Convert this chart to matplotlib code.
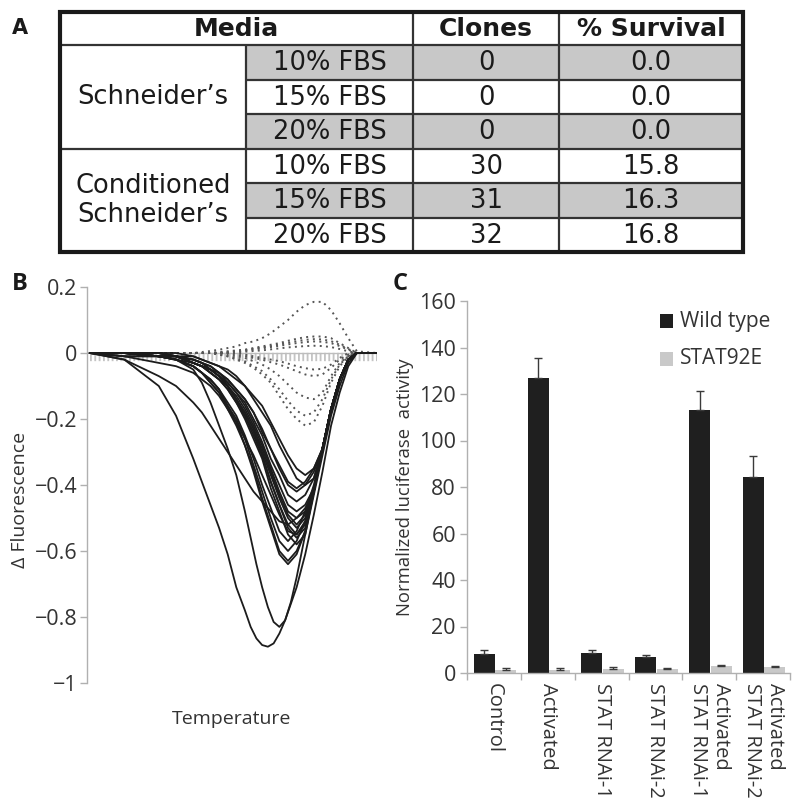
import matplotlib
matplotlib.use("Agg")
import matplotlib.pyplot as plt
from matplotlib.patches import Rectangle

plt.rcParams["font.family"] = ["Open Sans", "DejaVu Sans"]
plt.rcParams["axes.unicode_minus"] = True

# ---------------- Panel A : table ----------------
table_header = ["Media", "Clones", "% Survival"]
media_groups = ["Schneider\u2019s", "Conditioned\nSchneider\u2019s"]
fbs_levels = ["10% FBS", "15% FBS", "20% FBS", "10% FBS", "15% FBS", "20% FBS"]
clones = ["0", "0", "0", "30", "31", "32"]
survival = ["0.0", "0.0", "0.0", "15.8", "16.3", "16.8"]
shaded_rows = [0, 2, 4]

# ---------------- Panel B : melt curves ----------------
temperature = [0, 12, 24, 30, 36, 39, 42, 45, 48, 51, 54, 57, 60, 63, 66, 69,
               72, 75, 78, 81, 84, 87, 90, 93, 100]
temperature_deep = [0, 12, 24, 30, 36, 39, 42, 45, 48, 51, 54, 56, 58, 60, 62, 64,
                    66, 68, 70, 72, 75, 78, 81, 84, 87, 90, 93, 100]

melt_deep = [
    [0, -0.02, -0.10, -0.19, -0.32, -0.39, -0.46, -0.53, -0.61, -0.71, -0.78, -0.83, -0.865,
     -0.885, -0.89, -0.88, -0.85, -0.81, -0.76, -0.71, -0.61, -0.49, -0.36, -0.22, -0.12,
     -0.04, 0, 0],
    [0, 0, -0.01, -0.02, -0.05, -0.09, -0.15, -0.22, -0.29, -0.37, -0.48, -0.56, -0.64,
     -0.71, -0.77, -0.815, -0.83, -0.81, -0.755, -0.68, -0.55, -0.43, -0.31, -0.19, -0.10,
     -0.03, 0, 0],
]

melt_bundle = [
    [0, 0, 0, 0, -0.01, -0.02, -0.03, -0.04, -0.05, -0.07, -0.10, -0.13, -0.16, -0.21, -0.26, -0.31, -0.35, -0.37, -0.35, -0.29, -0.17, -0.08, -0.02, 0, 0],
    [0, 0, -0.01, -0.01, -0.01, -0.02, -0.03, -0.04, -0.06, -0.08, -0.10, -0.14, -0.18, -0.22, -0.28, -0.33, -0.38, -0.40, -0.38, -0.29, -0.17, -0.08, -0.02, 0, 0],
    [0, 0, 0, -0.01, -0.02, -0.03, -0.04, -0.06, -0.08, -0.11, -0.14, -0.18, -0.23, -0.29, -0.34, -0.39, -0.41, -0.39, -0.35, -0.29, -0.17, -0.08, -0.02, 0, 0],
    [0, 0, -0.01, -0.01, -0.02, -0.03, -0.04, -0.06, -0.08, -0.11, -0.14, -0.18, -0.24, -0.29, -0.35, -0.40, -0.42, -0.40, -0.36, -0.29, -0.17, -0.08, -0.02, 0, 0],
    [0, 0, 0, -0.01, -0.02, -0.03, -0.05, -0.06, -0.09, -0.12, -0.15, -0.20, -0.25, -0.32, -0.37, -0.43, -0.45, -0.43, -0.38, -0.29, -0.17, -0.08, -0.02, 0, 0],
    [0, 0, -0.01, -0.01, -0.02, -0.03, -0.05, -0.07, -0.09, -0.12, -0.16, -0.21, -0.27, -0.34, -0.40, -0.46, -0.48, -0.46, -0.41, -0.29, -0.17, -0.08, -0.02, 0, 0],
    [0, 0, 0, -0.01, -0.03, -0.04, -0.05, -0.07, -0.10, -0.13, -0.17, -0.22, -0.28, -0.35, -0.42, -0.48, -0.50, -0.48, -0.42, -0.29, -0.17, -0.08, -0.02, 0, 0],
    [0, -0.01, -0.01, -0.02, -0.03, -0.04, -0.05, -0.07, -0.10, -0.14, -0.18, -0.23, -0.29, -0.36, -0.43, -0.49, -0.52, -0.49, -0.42, -0.29, -0.17, -0.08, -0.02, 0, 0],
    [0, 0, 0, -0.01, -0.03, -0.04, -0.05, -0.07, -0.10, -0.14, -0.18, -0.23, -0.30, -0.37, -0.44, -0.50, -0.53, -0.50, -0.42, -0.29, -0.17, -0.08, -0.02, 0, 0],
    [0, 0, -0.01, -0.01, -0.03, -0.04, -0.06, -0.08, -0.10, -0.14, -0.19, -0.24, -0.31, -0.39, -0.46, -0.52, -0.55, -0.52, -0.42, -0.29, -0.17, -0.08, -0.02, 0, 0],
    [0, 0, 0, -0.01, -0.03, -0.04, -0.06, -0.08, -0.11, -0.15, -0.19, -0.25, -0.31, -0.39, -0.46, -0.53, -0.56, -0.53, -0.42, -0.29, -0.17, -0.08, -0.02, 0, 0],
    [0, 0, -0.01, -0.02, -0.04, -0.06, -0.08, -0.11, -0.15, -0.19, -0.25, -0.32, -0.40, -0.47, -0.54, -0.57, -0.54, -0.48, -0.40, -0.29, -0.17, -0.08, -0.02, 0, 0],
    [0, 0, -0.01, -0.01, -0.03, -0.04, -0.06, -0.08, -0.11, -0.15, -0.20, -0.26, -0.32, -0.41, -0.48, -0.55, -0.58, -0.55, -0.42, -0.29, -0.17, -0.08, -0.02, 0, 0],
    [0, 0, -0.01, -0.02, -0.04, -0.06, -0.08, -0.11, -0.16, -0.20, -0.26, -0.34, -0.42, -0.50, -0.57, -0.60, -0.57, -0.51, -0.42, -0.29, -0.17, -0.08, -0.02, 0, 0],
    [0, -0.01, -0.01, -0.02, -0.04, -0.06, -0.09, -0.12, -0.16, -0.21, -0.28, -0.35, -0.44, -0.52, -0.60, -0.63, -0.60, -0.54, -0.42, -0.29, -0.17, -0.08, -0.02, 0, 0],
    [0, 0, -0.01, -0.02, -0.04, -0.06, -0.09, -0.12, -0.17, -0.22, -0.28, -0.36, -0.45, -0.53, -0.61, -0.64, -0.61, -0.54, -0.42, -0.29, -0.17, -0.08, -0.02, 0, 0],
    [0, -0.02, -0.07, -0.10, -0.15, -0.18, -0.22, -0.26, -0.30, -0.34, -0.38, -0.42, -0.45, -0.48, -0.51, -0.52, -0.50, -0.47, -0.42, -0.29, -0.17, -0.08, -0.02, 0, 0],
    [0, -0.01, -0.03, -0.04, -0.06, -0.08, -0.10, -0.13, -0.17, -0.21, -0.26, -0.31, -0.37, -0.43, -0.49, -0.54, -0.55, -0.51, -0.42, -0.29, -0.17, -0.08, -0.02, 0, 0],
]

melt_dotted = [
    [0, 0, 0, 0, 0, 0.003, 0.006, 0.01, 0.015, 0.02, 0.03, 0.035, 0.045, 0.06, 0.08, 0.10, 0.125, 0.145, 0.155, 0.155, 0.13, 0.09, 0.045, 0.005, 0],
    [0, 0, 0, 0, 0, 0, 0, 0.003, 0.005, 0.008, 0.01, 0.015, 0.02, 0.025, 0.03, 0.037, 0.043, 0.048, 0.05, 0.05, 0.045, 0.03, 0.015, 0, 0],
    [0, 0, 0, 0, 0, 0, 0, 0.002, 0.004, 0.006, 0.009, 0.013, 0.017, 0.021, 0.026, 0.031, 0.036, 0.040, 0.042, 0.041, 0.036, 0.025, 0.012, 0, 0],
    [0, 0, 0, 0, 0, 0, 0, 0, 0.002, 0.004, 0.007, 0.010, 0.014, 0.018, 0.022, 0.026, 0.030, 0.033, 0.035, 0.034, 0.030, 0.021, 0.010, 0, 0],
    [0, 0, 0, 0, 0, 0, 0, 0, 0, 0.002, 0.004, 0.006, 0.008, 0.011, 0.014, 0.017, 0.019, 0.021, 0.022, 0.021, 0.018, 0.012, 0.005, 0, 0],
    [0, 0, 0, 0, 0, 0, 0, -0.005, -0.01, -0.02, -0.03, -0.045, -0.065, -0.09, -0.13, -0.17, -0.20, -0.22, -0.21, -0.16, -0.09, -0.04, -0.01, 0, 0],
    [0, 0, 0, 0, 0, 0, 0, -0.005, -0.01, -0.015, -0.025, -0.04, -0.055, -0.08, -0.11, -0.145, -0.175, -0.19, -0.18, -0.14, -0.08, -0.035, -0.01, 0, 0],
    [0, 0, 0, 0, 0, 0, 0, 0, -0.005, -0.01, -0.015, -0.025, -0.035, -0.05, -0.07, -0.095, -0.12, -0.135, -0.14, -0.12, -0.07, -0.03, -0.01, 0, 0],
    [0, 0, 0, 0, 0, 0, 0, 0, 0, -0.005, -0.01, -0.015, -0.02, -0.028, -0.035, -0.045, -0.055, -0.065, -0.07, -0.065, -0.045, -0.02, -0.005, 0, 0],
    [0, 0, 0, 0, 0, 0, 0, 0, 0, 0, -0.005, -0.01, -0.015, -0.02, -0.025, -0.032, -0.04, -0.046, -0.05, -0.048, -0.035, -0.015, 0, 0, 0],
]
baseline_T = [0, 100]
baseline_v = [-0.013, -0.013]

b_yticks = [0.2, 0, -0.2, -0.4, -0.6, -0.8, -1]
b_yticklabels = ["0.2", "0", "\u22120.2", "\u22120.4", "\u22120.6", "\u22120.8", "\u22121"]

# ---------------- Panel C : luciferase ----------------
c_categories = ["Control", "Activated", "STAT RNAi-1", "STAT RNAi-2",
                "Activated\nSTAT RNAi-1", "Activated\nSTAT RNAi-2"]
wild_type = [8.3, 127, 8.6, 6.8, 113, 84.5]
wild_type_err = [1.6, 8.6, 1.4, 0.9, 8.2, 8.7]
stat92e = [1.5, 1.5, 1.9, 1.6, 2.9, 2.7]
stat92e_err = [0.5, 0.5, 0.5, 0.4, 0.5, 0.4]
c_yticks = [0, 20, 40, 60, 80, 100, 120, 140, 160]
legend_labels = ["Wild type", "STAT92E"]

# ======================================================
W, H = 800, 798
fig = plt.figure(figsize=(8, 7.98), dpi=100)

# overlay axes in pixel coordinates (table, panel letters, legend)
ov = fig.add_axes([0, 0, 1, 1])
ov.set_xlim(0, W)
ov.set_ylim(H, 0)
ov.axis("off")

xc = [60, 246, 413, 559, 743]
yr = [12, 45, 79.5, 114, 148.5, 183, 217.5, 252]
gray_fill = "#c8c8c8"
for r in shaded_rows:
    ov.add_patch(Rectangle((xc[1], yr[r + 1]), xc[4] - xc[1], yr[r + 2] - yr[r + 1],
                           facecolor=gray_fill, edgecolor="none", zorder=1))
inner = dict(color="#333333", lw=1.6, zorder=2, solid_capstyle="butt")
for y in [yr[2], yr[3], yr[5], yr[6]]:
    ov.plot([xc[1], xc[4]], [y, y], **inner)
for y in [yr[1], yr[4]]:
    ov.plot([xc[0], xc[4]], [y, y], **inner)
ov.plot([xc[1], xc[1]], [yr[1], yr[7]], **inner)
for x in [xc[2], xc[3]]:
    ov.plot([x, x], [yr[0], yr[7]], **inner)
ov.add_patch(Rectangle((xc[0], yr[0]), xc[4] - xc[0], yr[7] - yr[0],
                       facecolor="none", edgecolor="#1a1a1a", lw=3.0, zorder=3))

hdr_kw = dict(family="DejaVu Sans", fontsize=18, fontweight="bold", color="#1a1a1a",
              ha="center", va="center", zorder=4)
hy = (yr[0] + yr[1]) / 2 + 1
ov.text((xc[0] + xc[2]) / 2, hy, table_header[0], **hdr_kw)
ov.text((xc[2] + xc[3]) / 2, hy, table_header[1], **hdr_kw)
ov.text((xc[3] + xc[4]) / 2, hy, table_header[2], **hdr_kw)

body_kw = dict(family="DejaVu Sans", fontsize=18.5, color="#1a1a1a",
               ha="center", va="center", zorder=4)
ov.text((xc[0] + xc[1]) / 2, (yr[1] + yr[4]) / 2, media_groups[0], **body_kw)
ov.text((xc[0] + xc[1]) / 2, (yr[4] + yr[7]) / 2, media_groups[1],
        linespacing=1.15, **body_kw)
for i in range(6):
    yc = (yr[i + 1] + yr[i + 2]) / 2 + 1
    ov.text((xc[1] + xc[2]) / 2, yc, fbs_levels[i], **body_kw)
    ov.text((xc[2] + xc[3]) / 2, yc, clones[i], **body_kw)
    ov.text((xc[3] + xc[4]) / 2, yc, survival[i], **body_kw)

ov.text(20, 28, "A", family="DejaVu Sans", fontsize=15, fontweight="bold",
        ha="center", va="center", color="#1a1a1a")
ov.text(20, 284, "B", fontsize=17, fontweight="bold", ha="center", va="center", color="#1a1a1a")
ov.text(400, 284, "C", fontsize=17, fontweight="bold", ha="center", va="center", color="#1a1a1a")

# ---------------- Panel B ----------------
axis_gray = "#b0b0b0"
txt_col = "#333333"
axB = fig.add_axes([87 / W, 1 - 683 / H, 290 / W, (683 - 287) / H])
axB.set_xlim(-1, 100)
axB.set_ylim(-1, 0.2)
for s in ["top", "right", "bottom"]:
    axB.spines[s].set_visible(False)
axB.spines["left"].set_color(axis_gray)
axB.spines["left"].set_linewidth(1.0)
axB.set_xticks([])
axB.set_yticks(b_yticks)
axB.set_yticklabels(b_yticklabels)
axB.tick_params(axis="y", colors=axis_gray, labelcolor=txt_col, length=5,
                width=1.0, labelsize=15.5, pad=2)
axB.patch.set_visible(False)

axB.plot(baseline_T, baseline_v, color="#c4c4c4", lw=6, dashes=(0.22, 0.3),
         dash_capstyle="butt", solid_capstyle="butt", zorder=1)
axB.plot(baseline_T, [0, 0], color="#bdbdbd", lw=1.0, zorder=1.5)
for c in melt_dotted:
    axB.plot(temperature, c, color="#555555", lw=1.4, linestyle=(0, (1, 2.2)), zorder=2)
for c in melt_bundle:
    axB.plot(temperature, c, color="#1c1c1c", lw=1.3, zorder=3, solid_joinstyle="round")
for c in melt_deep:
    axB.plot(temperature_deep, c, color="#1c1c1c", lw=1.3, zorder=3, solid_joinstyle="round")

fig.text(20 / W, 1 - 500 / H, "\u0394 Fluorescence", rotation=90, ha="center",
         va="center", fontsize=14, color=txt_col)
fig.text(232 / W, 1 - 719 / H, "Temperature", ha="center", va="center",
         fontsize=14, color=txt_col)

# ---------------- Panel C ----------------
axC = fig.add_axes([467 / W, 1 - 673 / H, 323 / W, (673 - 301) / H])
axC.set_xlim(-0.5, 5.5)
axC.set_ylim(0, 160)
for s in ["top", "right"]:
    axC.spines[s].set_visible(False)
for s in ["left", "bottom"]:
    axC.spines[s].set_color(axis_gray)
    axC.spines[s].set_linewidth(1.0)
axC.patch.set_visible(False)
xpos = list(range(len(c_categories)))
bw = 0.39
wt_x = [x - 0.18 for x in xpos]
st_x = [x + 0.22 for x in xpos]
axC.bar(wt_x, wild_type, width=bw, color="#1f1f1f", zorder=2)
axC.bar(st_x, stat92e, width=bw, color="#c9c9c9", zorder=2)
axC.errorbar(wt_x, wild_type, yerr=[[0] * 6, wild_type_err], fmt="none",
             ecolor="#3a3a3a", elinewidth=1.0, capsize=3, capthick=1.0, zorder=3)
axC.errorbar(st_x, stat92e, yerr=[[0] * 6, stat92e_err], fmt="none",
             ecolor="#3a3a3a", elinewidth=1.0, capsize=3, capthick=1.0, zorder=3)
axC.set_yticks(c_yticks)
axC.tick_params(axis="y", colors=axis_gray, labelcolor=txt_col, length=5,
                width=1.0, labelsize=15.5, pad=3)
axC.set_xticks(xpos)
axC.set_xticklabels(c_categories, rotation=270, ha="center", va="top",
                    multialignment="left", fontsize=14.5, color=txt_col)
axC.set_xticks([x - 0.5 for x in range(len(c_categories) + 1)], minor=True)
axC.tick_params(axis="x", which="major", length=0, pad=7)
axC.tick_params(axis="x", which="minor", length=5, width=1.0, colors=axis_gray)

fig.text(405 / W, 1 - 487 / H, "Normalized luciferase  activity", rotation=90,
         ha="center", va="center", fontsize=13.3, color=txt_col)

# legend
ov.add_patch(Rectangle((660, 314), 13, 14, facecolor="#1f1f1f", edgecolor="none"))
ov.add_patch(Rectangle((660, 352), 13, 14, facecolor="#c9c9c9", edgecolor="none"))
ov.text(680, 321, legend_labels[0], fontsize=15, ha="left", va="center", color=txt_col)
ov.text(680, 359, legend_labels[1], fontsize=15, ha="left", va="center", color=txt_col)

fig.savefig("out.png", dpi=100)
